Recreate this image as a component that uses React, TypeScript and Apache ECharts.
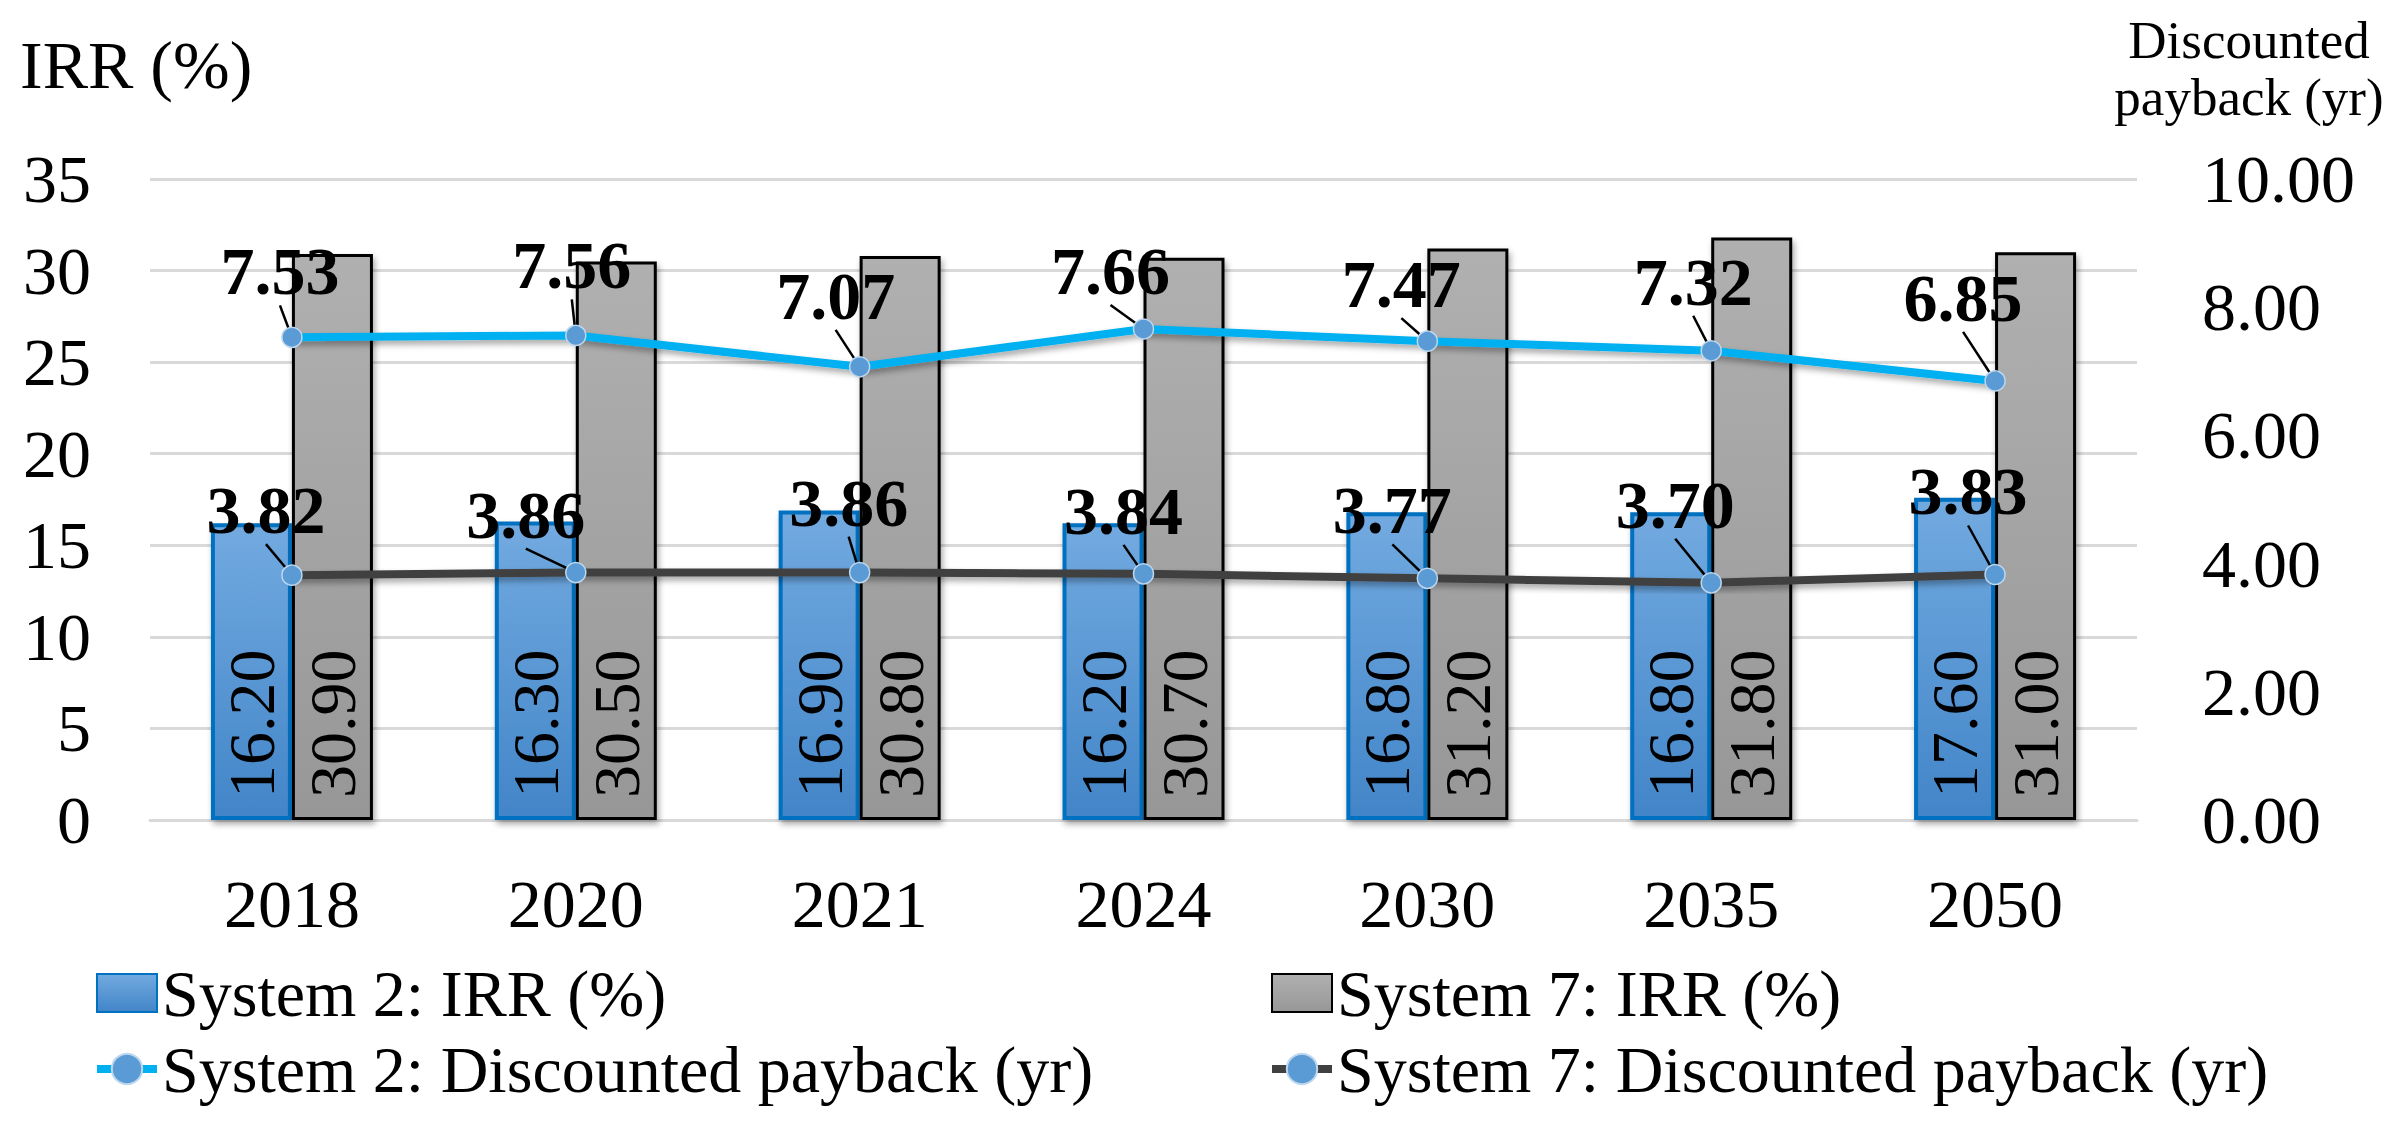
import React, { useEffect, useRef } from "react";
import * as echarts from "echarts";

const years = ["2018", "2020", "2021", "2024", "2030", "2035", "2050"];
const s2Irr = [16.2, 16.3, 16.9, 16.2, 16.8, 16.8, 17.6];
const s7Irr = [30.9, 30.5, 30.8, 30.7, 31.2, 31.8, 31.0];
const s2Payback = [7.53, 7.56, 7.07, 7.66, 7.47, 7.32, 6.85];
const s7Payback = [3.82, 3.86, 3.86, 3.84, 3.77, 3.7, 3.83];

const leftTicks = { min: 0, max: 35, interval: 5 };
const rightTicks = { min: 0, max: 10, interval: 2 };

// label offsets (layout only)
const s2LabelOffsets = [[-12, -66], [-4, -70], [-24, -71], [-33, -58], [-26, -57], [-18, -69], [-32, -83]];
const s7LabelOffsets = [[-26, -65], [-50, -58], [-11, -70], [-20, -63], [-35, -68], [-36, -78], [-27, -83]];

const FONT = "'Liberation Serif', 'Times New Roman', serif";

export default function App() {
  const ref = useRef<HTMLDivElement>(null);
  useEffect(() => {
    document.body.style.margin = "0";
    const chart = echarts.init(ref.current!, null, { renderer: "svg" });
    const blueFill = new echarts.graphic.LinearGradient(0, 0, 0, 1, [
      { offset: 0, color: "#72AAE0" },
      { offset: 1, color: "#4285C8" },
    ]);
    const grayFill = new echarts.graphic.LinearGradient(0, 0, 0, 1, [
      { offset: 0, color: "#B0B0B0" },
      { offset: 1, color: "#979797" },
    ]);
    const barLabel = {
      show: true,
      position: "insideBottom",
      rotate: 90,
      align: "left",
      verticalAlign: "middle",
      distance: 22,
      fontSize: 66,
      fontFamily: FONT,
      color: "#000",
      formatter: (p: any) => Number(p.value).toFixed(2),
    };
    const lineLabel = {
      show: true,
      position: "inside",
      fontSize: 68,
      fontWeight: "bold",
      fontFamily: FONT,
      color: "#000",
      formatter: (p: any) => Number(p.value).toFixed(2),
    };
    const shadow = {
      shadowColor: "rgba(0,0,0,0.35)",
      shadowBlur: 6,
      shadowOffsetX: 2,
      shadowOffsetY: 4,
    };
    const legendBase = {
      top: 955,
      orient: "vertical",
      itemWidth: 60,
      itemHeight: 38,
      itemGap: 10,
      textStyle: { fontSize: 66, fontFamily: FONT, color: "#000" },
    };
    chart.setOption({
      animation: false,
      backgroundColor: "#fff",
      textStyle: { fontFamily: FONT },
      grid: { left: 150, right: 255, top: 179, bottom: 318, containLabel: false },
      legend: [
        {
          ...legendBase,
          left: 88,
          data: [
            { name: "System 2: IRR (%)", icon: "rect" },
            { name: "System 2: Discounted payback (yr)", lineStyle: { width: 8 } },
          ],
        },
        {
          ...legendBase,
          left: 1263,
          data: [
            { name: "System 7: IRR (%)", icon: "rect" },
            { name: "System 7: Discounted payback (yr)", lineStyle: { width: 8 } },
          ],
        },
      ],
      graphic: [
        {
          type: "text",
          x: 20,
          y: 65,
          style: { text: "IRR (%)", fontSize: 68, fontFamily: FONT, fill: "#000", verticalAlign: "middle", align: "left" },
        },
        {
          type: "text",
          x: 2249,
          y: 40,
          style: { text: "Discounted", fontSize: 53, fontFamily: FONT, fill: "#000", verticalAlign: "middle", align: "center" },
        },
        {
          type: "text",
          x: 2249,
          y: 97,
          style: { text: "payback (yr)", fontSize: 53, fontFamily: FONT, fill: "#000", verticalAlign: "middle", align: "center" },
        },
      ],
      xAxis: {
        type: "category",
        data: years,
        axisLine: { show: true, lineStyle: { color: "#D9D9D9", width: 3 } },
        axisTick: { show: false },
        axisLabel: { fontSize: 68, fontFamily: FONT, color: "#000", margin: 50 },
      },
      yAxis: [
        {
          type: "value",
          ...leftTicks,
          axisLine: { show: false },
          axisTick: { show: false },
          splitLine: { show: true, lineStyle: { color: "#D9D9D9", width: 3 } },
          axisLabel: { fontSize: 68, fontFamily: FONT, color: "#000", margin: 59 },
        },
        {
          type: "value",
          ...rightTicks,
          position: "right",
          axisLine: { show: false },
          axisTick: { show: false },
          splitLine: { show: false },
          axisLabel: {
            fontSize: 68,
            fontFamily: FONT,
            color: "#000",
            margin: 65,
            formatter: (v: number) => v.toFixed(2),
          },
        },
      ],
      series: [
        {
          name: "System 2: IRR (%)",
          type: "bar",
          yAxisIndex: 0,
          data: s2Irr,
          barWidth: 81,
          barGap: "0%",
          itemStyle: { color: blueFill, borderColor: "#0070C0", borderWidth: 4, ...shadow },
          label: barLabel,
        },
        {
          name: "System 7: IRR (%)",
          type: "bar",
          yAxisIndex: 0,
          data: s7Irr,
          barWidth: 81,
          barGap: "0%",
          itemStyle: { color: grayFill, borderColor: "#000", borderWidth: 3, ...shadow },
          label: barLabel,
        },
        {
          name: "System 2: Discounted payback (yr)",
          type: "line",
          yAxisIndex: 1,
          data: s2Payback,
          symbol: "circle",
          symbolSize: 20,
          lineStyle: { color: "#00B0F0", width: 8, ...shadow },
          itemStyle: { color: "#5B9BD5", borderColor: "#BDD7EE", borderWidth: 1.5 },
          label: lineLabel,
          labelLayout: (p: any) => ({ dx: s2LabelOffsets[p.dataIndex][0], dy: s2LabelOffsets[p.dataIndex][1] }),
          labelLine: { show: true, lineStyle: { color: "#000", width: 2.5 } },
        },
        {
          name: "System 7: Discounted payback (yr)",
          type: "line",
          yAxisIndex: 1,
          data: s7Payback,
          symbol: "circle",
          symbolSize: 20,
          lineStyle: { color: "#404040", width: 8, ...shadow },
          itemStyle: { color: "#5B9BD5", borderColor: "#BDD7EE", borderWidth: 1.5 },
          label: lineLabel,
          labelLayout: (p: any) => ({ dx: s7LabelOffsets[p.dataIndex][0], dy: s7LabelOffsets[p.dataIndex][1] }),
          labelLine: { show: true, lineStyle: { color: "#000", width: 2.5 } },
        },
      ],
    });
    return () => chart.dispose();
  }, []);
  return <div ref={ref} style={{ width: 2392, height: 1138 }} />;
}
